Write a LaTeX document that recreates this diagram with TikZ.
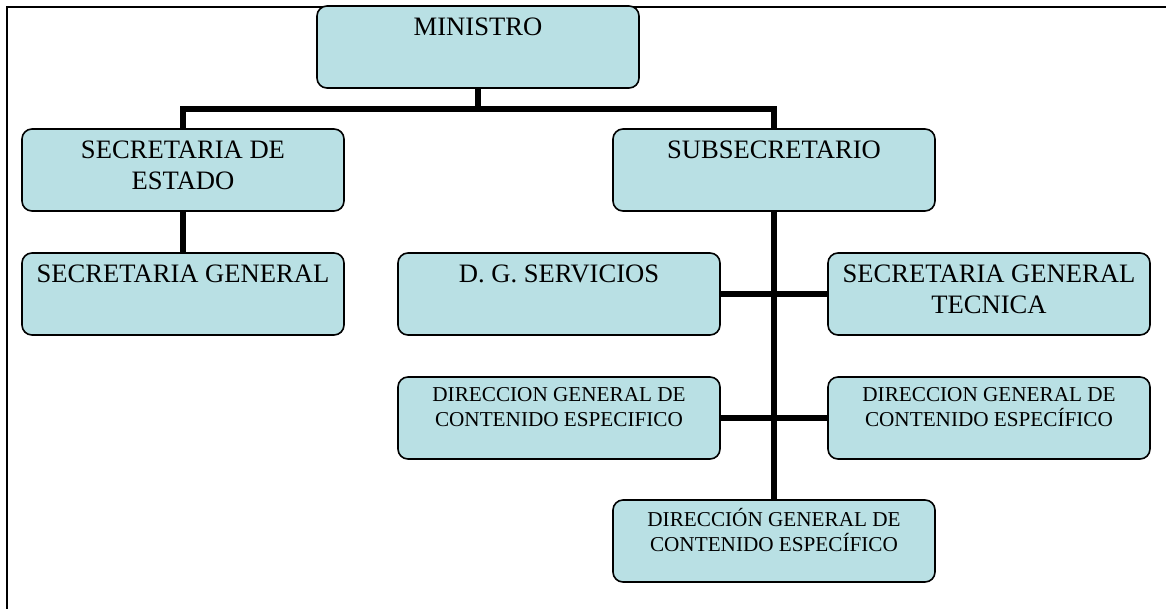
\documentclass[tikz,border=0pt]{standalone}
\usepackage{fontspec}
\setmainfont{Liberation Serif}
\definecolor{boxfill}{RGB}{185,224,228}
\begin{document}
\begin{tikzpicture}[x=1pt,y=-1pt,
  orgbox/.style={draw=black, line width=1.6pt, fill=boxfill, rounded corners=10pt,
    minimum width=322pt, minimum height=82pt, inner sep=0pt},
  bigtxt/.style={font=\fontsize{26.6}{31.5}\selectfont, align=center, inner sep=0pt, anchor=north},
  smalltxt/.style={font=\fontsize{21.2}{25}\selectfont, align=center, inner sep=0pt, anchor=north},
  conn/.style={line width=5.5pt},
  frame/.style={line width=2.2pt}]
\useasboundingbox (0,0) rectangle (1166,608);
\clip (0,0) rectangle (1166,608);
% frame
\coordinate (fbl) at (7,640);
\coordinate (ftl) at (7,7);
\coordinate (ftr) at (1200,7);
\draw[frame] (fbl) -- (ftl) -- (ftr);
% boxes
\node[orgbox] (min)  at (478,47)  {};
\node[orgbox] (sde)  at (183,170) {};
\node[orgbox] (sub)  at (774,170) {};
\node[orgbox] (sg)   at (183,294) {};
\node[orgbox] (dgs)  at (559,294) {};
\node[orgbox] (sgt)  at (989,294) {};
\node[orgbox] (dce1) at (559,418) {};
\node[orgbox] (dce2) at (989,418) {};
\node[orgbox] (dir)  at (774,541) {};
% texts
\node[bigtxt] (minT) at ([yshift=-10pt]min.north) {\rule{0pt}{20pt}MINISTRO};
\node[bigtxt] (sdeT) at ([yshift=-10pt]sde.north) {\rule{0pt}{20pt}SECRETARIA DE\\ESTADO};
\node[bigtxt] (subT) at ([yshift=-10pt]sub.north) {\rule{0pt}{20pt}SUBSECRETARIO};
\node[bigtxt] (sgT)  at ([yshift=-10pt]sg.north)  {\rule{0pt}{20pt}SECRETARIA GENERAL};
\node[bigtxt] (dgsT) at ([yshift=-10pt]dgs.north) {\rule{0pt}{20pt}D. G. SERVICIOS};
\node[bigtxt] (sgtT) at ([yshift=-10pt]sgt.north) {\rule{0pt}{20pt}SECRETARIA GENERAL\\TECNICA};
\node[smalltxt] (dce1T) at ([yshift=-9pt]dce1.north) {\rule{0pt}{16pt}DIRECCION GENERAL DE\\CONTENIDO ESPECIFICO};
\node[smalltxt] (dce2T) at ([yshift=-9pt]dce2.north) {\rule{0pt}{16pt}DIRECCION GENERAL DE\\CONTENIDO ESPECÍFICO};
\node[smalltxt] (dirT)  at ([yshift=-9pt]dir.north)  {\rule{0pt}{16pt}DIRECCIÓN GENERAL DE\\CONTENIDO ESPECÍFICO};
% connectors
\coordinate (hub) at (478,109);
\draw[conn] (min.south) -- (hub);
\draw[conn] (sde.north) -- (sde.north |- hub) -- (sub.north |- hub) -- (sub.north);
\draw[conn] (sde.south) -- (sg.north);
\draw[conn] (sub.south) -- (dir.north);
\draw[conn] (dgs.east) -- (sgt.west);
\draw[conn] (dce1.east) -- (dce2.west);
\end{tikzpicture}
\end{document}
